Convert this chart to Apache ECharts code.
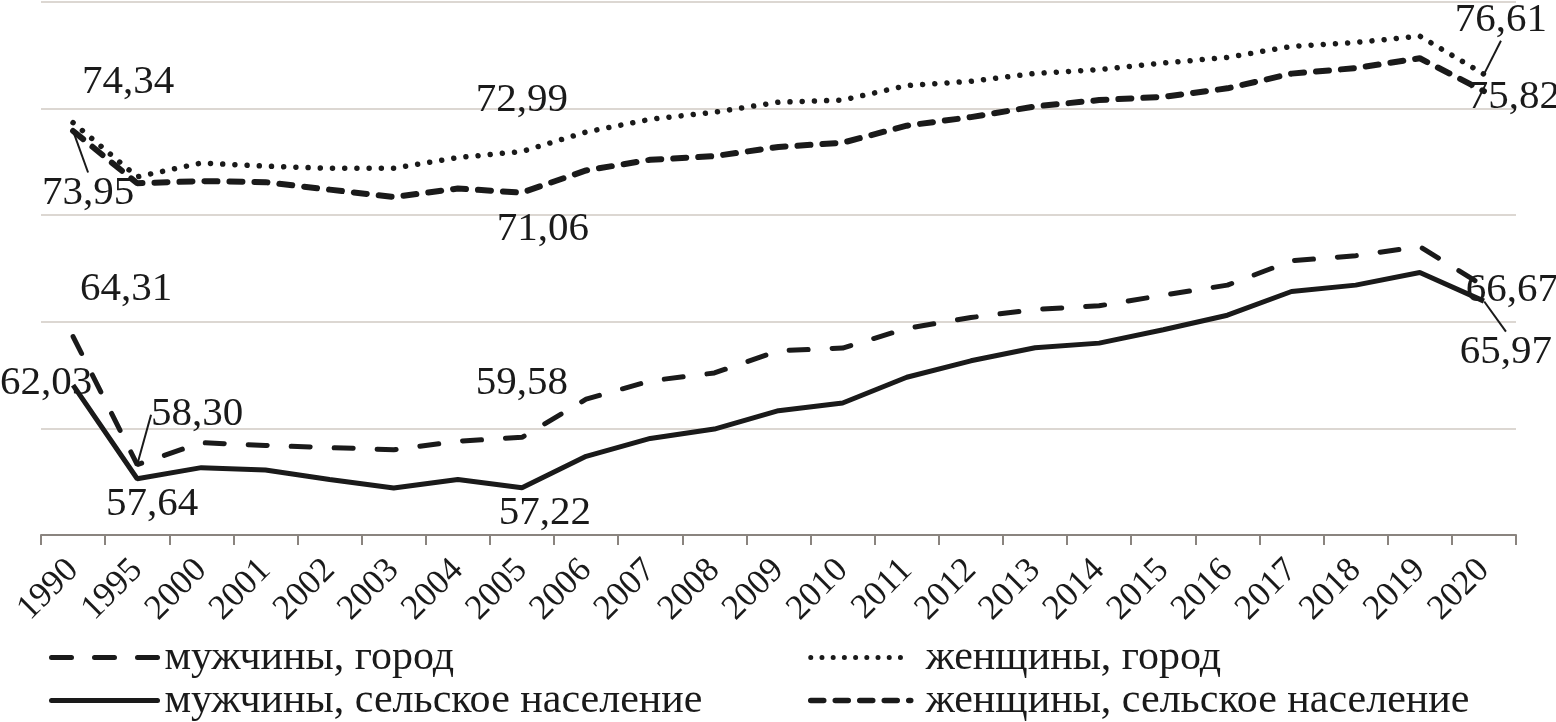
<!DOCTYPE html>
<html>
<head>
<meta charset="utf-8">
<script src="https://cdn.jsdelivr.net/npm/echarts@6/dist/echarts.min.js"></script>
<style>
html,body{margin:0;padding:0;background:#fff;}
#c{width:1556px;height:722px;}
</style>
</head>
<body>
<div id="c"></div>
<script>
const years = ['1990','1995','2000','2001','2002','2003','2004','2005','2006','2007','2008','2009','2010','2011','2012','2013','2014','2015','2016','2017','2018','2019','2020'];
const menCity   = [64.31, 58.30, 59.33, 59.20, 59.10, 59.00, 59.40, 59.58, 61.37, 62.23, 62.60, 63.64, 63.77, 64.69, 65.20, 65.58, 65.75, 66.25, 66.72, 67.86, 68.10, 68.53, 66.67];
const menRural  = [62.03, 57.64, 58.16, 58.05, 57.60, 57.20, 57.60, 57.22, 58.69, 59.53, 59.97, 60.83, 61.19, 62.40, 63.17, 63.78, 64.00, 64.63, 65.31, 66.42, 66.72, 67.31, 65.97];
const womenCity = [74.34, 71.80, 72.45, 72.30, 72.20, 72.20, 72.70, 72.99, 73.90, 74.50, 74.83, 75.30, 75.40, 76.08, 76.28, 76.65, 76.83, 77.14, 77.40, 77.92, 78.10, 78.40, 76.61];
const womenRural= [73.95, 71.50, 71.60, 71.55, 71.20, 70.85, 71.25, 71.06, 72.10, 72.60, 72.77, 73.20, 73.40, 74.20, 74.60, 75.10, 75.40, 75.55, 75.95, 76.64, 76.90, 77.36, 75.82];
const names = ['мужчины, город','мужчины, сельское население','женщины, город','женщины, сельское население'];

// label placements: index -> [dx, dy, leader]
const menCityLabels   = {0:[53,-47,false], 1:[60,-50,true], 7:[0,-54,false], 22:[28,4,false]};
const menRuralLabels  = {0:[-27,-2,false], 1:[15,26,false], 7:[23,26,false], 22:[22,51,true]};
const womenCityLabels = {0:[55,-40,false], 7:[0,-51,false], 22:[17,-54,true]};
const womenRuralLabels= {0:[15,62,true], 7:[21,37,false], 22:[30,6,false]};

const FONT = 'Liberation Serif, Times New Roman, serif';
const INK = '#1a1a1a';

const styles = [
  {color: INK, width: 5, type: [19, 24], cap: 'round'},
  {color: INK, width: 5, type: 'solid', cap: 'butt'},
  {color: INK, width: 5.5, type: [0.01, 12.2], cap: 'round'},
  {color: INK, width: 6, type: [13, 12], cap: 'round'}
];
const legendStyles = [
  {color: INK, width: 5, type: [20, 23], cap: 'round'},
  {color: INK, width: 5, type: 'solid', cap: 'round'},
  {color: INK, width: 5, type: [0.01, 11.2], cap: 'round'},
  {color: INK, width: 5.5, type: [13, 11.5], cap: 'round'}
];

function fmt(v){ return v.toFixed(2).replace('.', ','); }

function buildData(vals, labels){
  return vals.map((v,i)=>{
    const l = labels[i];
    if(!l) return v;
    return {value: v, label: {show:true}, labelLine: {show: l[2]}};
  });
}

function mkSeries(name, vals, labels, lineStyle){
  return {
    name: name,
    type: 'line',
    data: buildData(vals, labels),
    symbol: 'circle',
    symbolSize: 1,
    itemStyle: {color: 'rgba(0,0,0,0)'},
    lineStyle: lineStyle,
    color: INK,
    silent: true,
    animation: false,
    label: {
      show: false,
      position: 'inside',
      formatter: p => fmt(p.value),
      fontFamily: FONT,
      fontSize: 41,
      color: INK
    },
    labelLine: {show:false, length2: 0, smooth: false, lineStyle:{color: INK, width: 2}},
    labelLayout: function(p){
      const l = labels[p.dataIndex];
      if(!l) return {};
      return {dx: l[0], dy: l[1], hideOverlap: false};
    },
    z: 3
  };
}

function legendItem(i){
  return {name: names[i], itemStyle: {color: 'rgba(0,0,0,0)', borderWidth: 0}, lineStyle: legendStyles[i]};
}

const legendText = {fontFamily: FONT, fontSize: 42, color: INK, lineHeight: 43};

const chart = echarts.init(document.getElementById('c'), null, {renderer:'canvas'});
chart.setOption({
  backgroundColor: '#ffffff',
  animation: false,
  grid: {left: 41, right: 40, top: 2, bottom: 187, containLabel: false},
  xAxis: {
    type: 'category',
    data: years,
    boundaryGap: true,
    axisLine: {lineStyle: {color: '#8a847f', width: 2}},
    axisTick: {show: true, length: 10, lineStyle: {color: '#8a847f', width: 2}},
    axisLabel: {rotate: 45, fontFamily: FONT, fontSize: 35, color: INK, margin: 30, interval: 0}
  },
  yAxis: {
    type: 'value',
    min: 55, max: 80, interval: 5,
    axisLabel: {show: false},
    axisLine: {show: false},
    axisTick: {show: false},
    splitLine: {lineStyle: {color: '#dcd7d2', width: 2}}
  },
  legend: [
    {
      data: [legendItem(0), legendItem(1)],
      orient: 'vertical',
      left: 49, top: 636,
      itemWidth: 106, itemHeight: 14, itemGap: 0,
      padding: 0,
      selectedMode: false,
      lineStyle: {width: 'inherit', type: 'inherit', cap: 'inherit'},
      textStyle: Object.assign({padding: [0,0,0,2]}, legendText)
    },
    {
      data: [legendItem(2), legendItem(3)],
      orient: 'vertical',
      left: 808, top: 636,
      itemWidth: 100, itemHeight: 14, itemGap: 0,
      padding: 0,
      selectedMode: false,
      lineStyle: {width: 'inherit', type: 'inherit', cap: 'inherit'},
      textStyle: Object.assign({padding: [0,0,0,10]}, legendText)
    }
  ],
  series: [
    mkSeries(names[0], menCity, menCityLabels, styles[0]),
    mkSeries(names[1], menRural, menRuralLabels, styles[1]),
    mkSeries(names[2], womenCity, womenCityLabels, styles[2]),
    mkSeries(names[3], womenRural, womenRuralLabels, styles[3])
  ]
});
</script>
</body>
</html>
